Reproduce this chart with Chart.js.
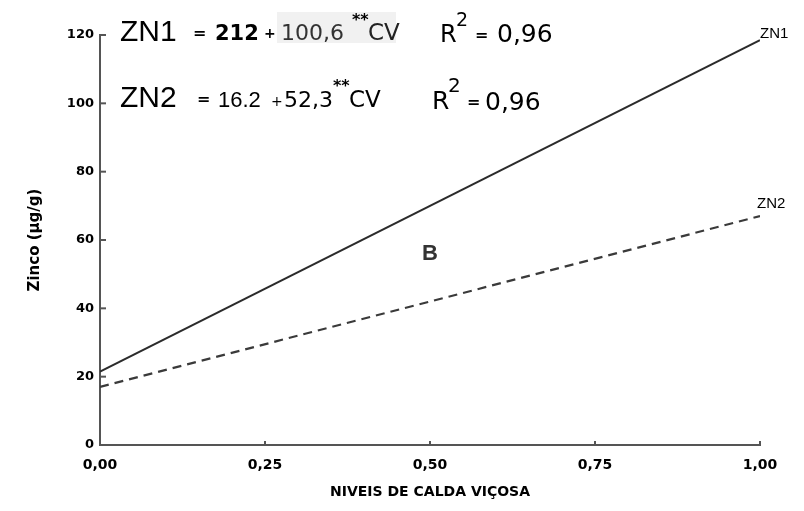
<!DOCTYPE html>
<html>
<head>
<meta charset="utf-8">
<script src="https://cdn.jsdelivr.net/npm/chart.js@4.4.1/dist/chart.umd.min.js"></script>
<style>
  html, body { margin: 0; padding: 0; background: #ffffff; }
  #wrap { width: 804px; height: 511px; }
</style>
</head>
<body>
<div id="wrap"><canvas id="c" width="804" height="511"></canvas></div>
<script>
// ---- data ----
const xLevels = [0, 1];            // Níveis de calda viçosa
const zn1Values = [21.5, 118.5];   // ZN1 line ends
const zn2Values = [17, 67];        // ZN2 line ends
const xTicks = [0, 0.25, 0.5, 0.75, 1];
const yTicks = [0, 20, 40, 60, 80, 100, 120];
const seriesNames = ['ZN1', 'ZN2'];
const xTitle = 'NIVEIS DE CALDA VIÇOSA';
const yTitle = 'Zinco (µg/g)';
const panelLetter = 'B';

const toPoints = (xs, ys) => xs.map((x, i) => ({ x: x, y: ys[i] }));
const fmt = v => v.toFixed(2).replace('.', ',');

// annotation plugin: equations, end labels, panel letter, inner tick marks
const annotate = {
  id: 'annotate',
  beforeDraw(chart) {
    const ctx = chart.ctx;
    ctx.save();
    ctx.fillStyle = '#f1f1f1';
    ctx.fillRect(277, 12, 119, 31);
    ctx.restore();
  },
  afterDraw(chart) {
    const ctx = chart.ctx;
    const xs = chart.scales.x, ys = chart.scales.y;
    const area = chart.chartArea;
    ctx.save();
    // inner tick marks
    ctx.strokeStyle = '#555';
    ctx.lineWidth = 2;
    yTicks.forEach(v => {
      if (v === 0) return;
      const py = ys.getPixelForValue(v);
      ctx.beginPath(); ctx.moveTo(area.left, py); ctx.lineTo(area.left + 6, py); ctx.stroke();
    });
    xTicks.forEach(v => {
      if (v === 0) return;
      const px = xs.getPixelForValue(v);
      ctx.beginPath(); ctx.moveTo(px, area.bottom); ctx.lineTo(px, area.bottom - 4); ctx.stroke();
    });

    const seg = (t, x, y, font, color) => {
      ctx.font = font; ctx.fillStyle = color || '#000';
      ctx.textAlign = 'left'; ctx.textBaseline = 'alphabetic';
      ctx.fillText(t, x, y);
    };
    const F = '"DejaVu Sans", sans-serif';
    const L = '"Liberation Sans", Arial, sans-serif';
    // equation 1
    seg(seriesNames[0], 120, 41, '30px ' + L);
    seg('=', 193, 38, 'bold 16px ' + F);
    seg('212', 215, 40, 'bold 21px ' + F);
    seg('+', 264, 38, 'bold 14px ' + F);
    seg('100,6', 281, 40, '22px ' + F, '#333');
    seg('**', 352, 25, 'bold 16px ' + F);
    seg('CV', 368, 40, '23px ' + F, '#222');
    seg('R', 440, 42, '24px ' + F);
    seg('2', 456, 26, '19px ' + F);
    seg('=', 475, 40, 'bold 16px ' + F);
    seg('0,96', 497, 42, '25px ' + F);
    // equation 2
    seg(seriesNames[1], 120, 107, '30px ' + L);
    seg('=', 197, 104, 'bold 16px ' + F);
    seg('16.2', 218, 107, '22px ' + L);
    seg('+', 271, 106, '14px ' + F);
    seg('52,3', 284, 107, '22px ' + F);
    seg('**', 333, 91, 'bold 16px ' + F);
    seg('CV', 349, 107, '23px ' + F);
    seg('R', 432, 109, '25px ' + F);
    seg('2', 448, 92, '20px ' + F);
    seg('=', 467, 107, 'bold 16px ' + F);
    seg('0,96', 485, 110, '25px ' + F);

    // end labels
    seg(seriesNames[0], 760, 38, '15px ' + L);
    seg(seriesNames[1], 757, 208, '15px ' + L);
    // panel letter
    ctx.font = 'bold 22px ' + L; ctx.fillStyle = '#333';
    ctx.textAlign = 'center'; ctx.textBaseline = 'middle';
    ctx.fillText(panelLetter, 430, 254);
    ctx.restore();
  }
};

const yTickFont = { family: 'DejaVu Sans', weight: 'bold', size: 13 };
const xTickFont = { family: 'DejaVu Sans', weight: 'bold', size: 14 };

new Chart(document.getElementById('c'), {
  type: 'line',
  data: {
    datasets: [
      {
        label: seriesNames[0],
        data: toPoints(xLevels, zn1Values),
        borderColor: '#2b2b2b',
        borderWidth: 2,
        pointRadius: 0,
        fill: false
      },
      {
        label: seriesNames[1],
        data: toPoints(xLevels, zn2Values),
        borderColor: '#3a3a3a',
        borderWidth: 2.2,
        borderDash: [9, 6],
        pointRadius: 0,
        fill: false
      }
    ]
  },
  options: {
    responsive: false,
    animation: false,
    layout: { padding: { top: 35, right: 44, left: 0, bottom: 0 } },
    plugins: { legend: { display: false }, tooltip: { enabled: false } },
    scales: {
      x: {
        type: 'linear', min: 0, max: 1,
        afterBuildTicks: s => { s.ticks = xTicks.map(v => ({ value: v })); },
        ticks: { callback: v => fmt(v), font: xTickFont, color: '#000', padding: 12, maxRotation: 0, autoSkip: false },
        grid: { display: false, drawTicks: false },
        border: { display: true, color: '#555', width: 2 },
        title: { display: true, text: xTitle, color: '#000',
                 font: { family: 'DejaVu Sans', weight: 'bold', size: 14 },
                 padding: { top: 0, bottom: 10 } },
        afterFit: s => { s.height = 66; }
      },
      y: {
        type: 'linear', min: 0, max: 120,
        afterBuildTicks: s => { s.ticks = yTicks.map(v => ({ value: v })); },
        ticks: { callback: v => String(v), font: yTickFont, color: '#000', padding: 6 },
        grid: { display: false, drawTicks: false },
        border: { display: true, color: '#555', width: 2 },
        title: { display: true, text: yTitle, color: '#000',
                 font: { family: 'DejaVu Sans', weight: 'bold', size: 15 },
                 padding: { top: 26, bottom: 0 } },
        afterFit: s => { s.width = 100; }
      }
    }
  },
  plugins: [annotate]
});
</script>
</body>
</html>
